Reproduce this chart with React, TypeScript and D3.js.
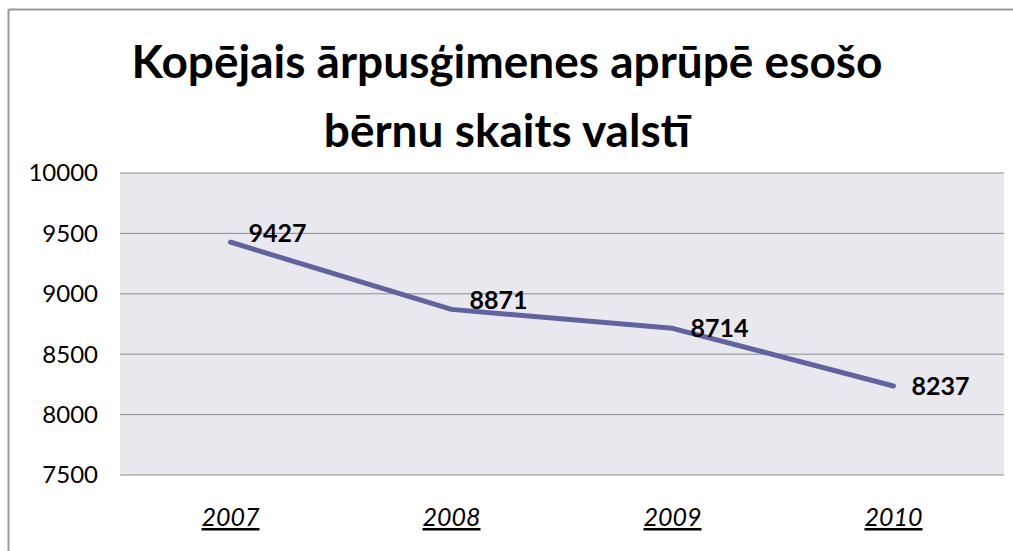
import React from 'react';
import * as d3 from 'd3';

const years = ['2007', '2008', '2009', '2010'];
const counts = [9427, 8871, 8714, 8237];
const yTicks = [7500, 8000, 8500, 9000, 9500, 10000];
const titleLines = ['Kopējais ārpusģimenes aprūpē esošo', 'bērnu skaits valstī'];
// label sits right of its point, some raised a bit like in the original
const labelRaise = [9, 9, 0, 0];

const W = 1013;
const H = 551;
const plot = { left: 120, right: 1004, top: 173, bottom: 475 };
const font = 'Lato, "Open Sans", sans-serif';

const App: React.FC = () => {
  const x = d3.scaleBand<string>().domain(years).range([plot.left, plot.right]);
  const y = d3.scaleLinear().domain([7500, 10000]).range([plot.bottom, plot.top]);

  const line = d3.line<number>()
    .x((_, i) => (x(years[i]) ?? 0) + x.bandwidth() / 2)
    .y(d => y(d));

  return (
    <>
      <style>{`html, body { margin: 0; overflow: hidden; background: #fff; }`}</style>
      <svg
        width={W}
        height={H}
        style={{ position: 'absolute', left: 0, top: 0, display: 'block' }}
      >
        <rect x={0} y={0} width={W} height={H} fill="#fff" />
        {/* outer chart frame, only top and left edges fall inside the picture */}
        <line x1={8.5} x2={W} y1={9.5} y2={9.5} stroke="#999" strokeWidth={2} />
        <line x1={8.5} x2={8.5} y1={9.5} y2={H} stroke="#999" strokeWidth={2} />

        {titleLines.map((t, i) => (
          <text
            key={t}
            x={507}
            y={78 + i * 69}
            textAnchor="middle"
            fontFamily={font}
            fontWeight="bold"
            fontSize={46}
            fill="#000"
          >
            {t}
          </text>
        ))}

        <rect
          x={plot.left}
          y={plot.top}
          width={plot.right - plot.left}
          height={plot.bottom - plot.top}
          fill="#EAE8EF"
        />

        {yTicks.map(t => (
          <g key={t}>
            <line x1={plot.left} x2={plot.right} y1={y(t)} y2={y(t)} stroke="#8c8c8c" strokeWidth={1} />
            <text
              x={98}
              y={y(t)}
              dy="0.35em"
              textAnchor="end"
              fontFamily={font}
              fontSize={24}
              fill="#000"
            >
              {t}
            </text>
          </g>
        ))}

        {years.map(yr => (
          <text
            key={yr}
            x={(x(yr) ?? 0) + x.bandwidth() / 2}
            y={526}
            textAnchor="middle"
            fontFamily={font}
            fontStyle="italic"
            fontSize={25}
            textDecoration="underline"
            fill="#000"
          >
            {yr}
          </text>
        ))}

        <path
          d={line(counts) ?? ''}
          fill="none"
          stroke="#6163A0"
          strokeWidth={5}
          strokeLinecap="round"
          strokeLinejoin="round"
        />

        {counts.map((c, i) => (
          <text
            key={i}
            x={(x(years[i]) ?? 0) + x.bandwidth() / 2 + 18}
            y={y(c) - labelRaise[i]}
            dy="0.35em"
            fontFamily={font}
            fontWeight="bold"
            fontSize={25}
            fill="#000"
          >
            {c}
          </text>
        ))}
      </svg>
    </>
  );
};

export default App;
